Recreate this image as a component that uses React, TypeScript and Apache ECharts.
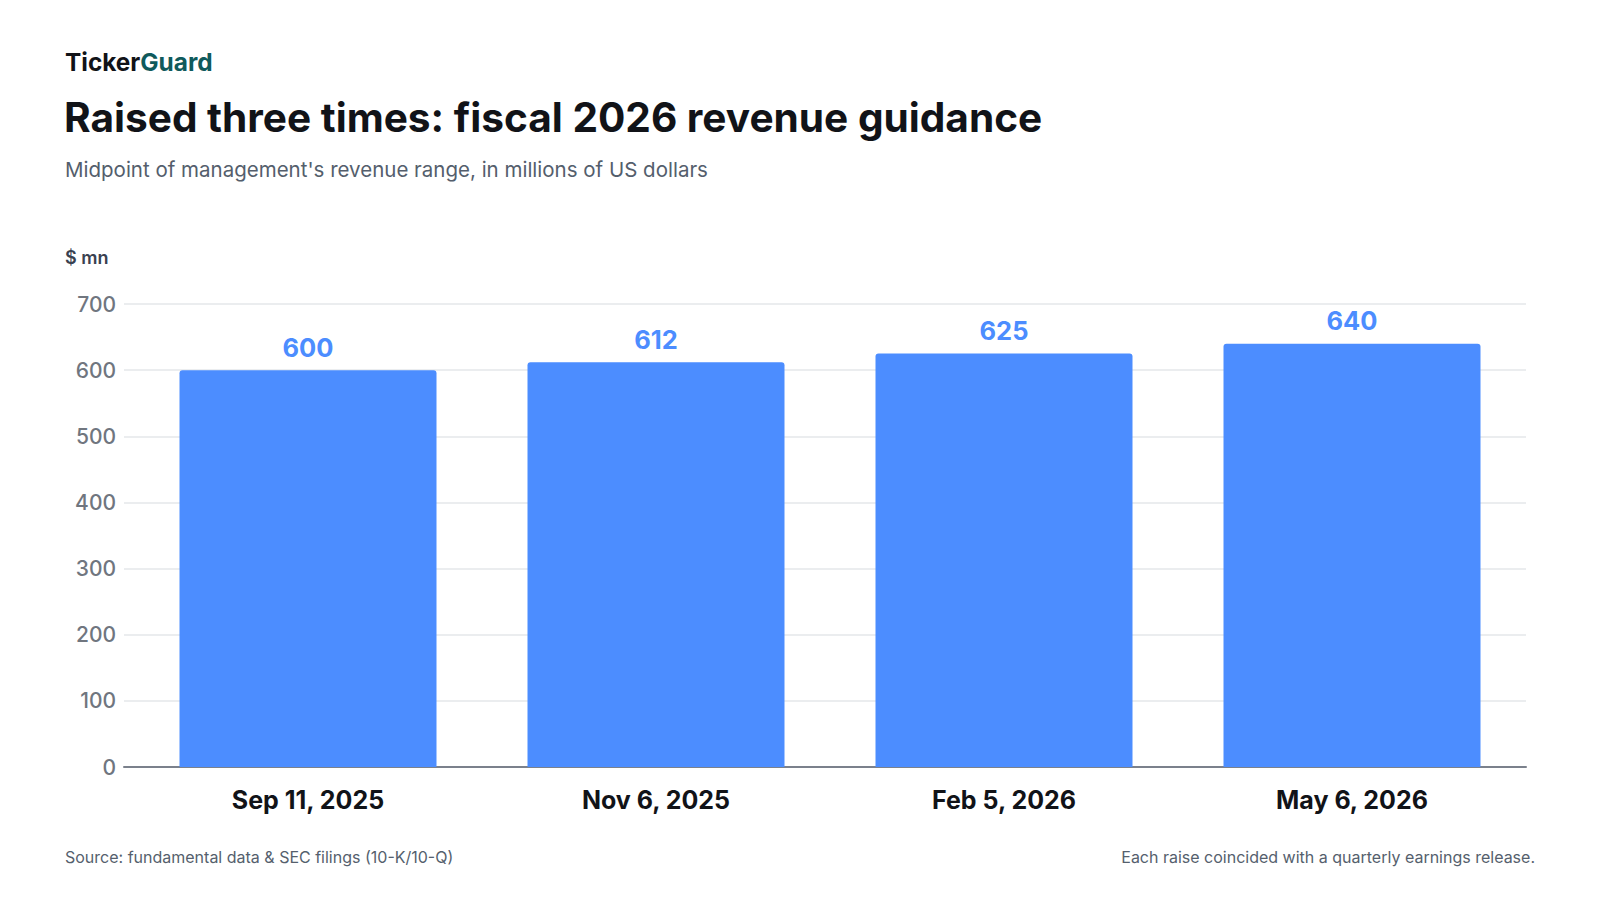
import React, { useEffect, useRef } from "react";
import * as echarts from "echarts";

const categories = ["Sep 11, 2025", "Nov 6, 2025", "Feb 5, 2026", "May 6, 2026"];
const guidance = [600, 612, 625, 640];
const yTicks = [0, 100, 200, 300, 400, 500, 600, 700];

const FONT = "Inter, 'Noto Sans', sans-serif";
const BLUE = "#4c8dff";

const App: React.FC = () => {
  const chartRef = useRef<HTMLDivElement>(null);

  useEffect(() => {
    if (!chartRef.current) return;
    const chart = echarts.init(chartRef.current, undefined, { renderer: "svg" });

    const yMin = yTicks[0];
    const yMax = yTicks[yTicks.length - 1];

    const option = {
      animation: false,
      backgroundColor: "#ffffff",
      textStyle: { fontFamily: FONT },
      // grid 0: gridlines and y labels (a bit wider), grid 1: the bars
      grid: [
        { left: 124, right: 74, top: 304, bottom: 133 },
        { left: 134, right: 74, top: 304, bottom: 133 },
      ],
      xAxis: [
        {
          gridIndex: 0,
          type: "category",
          data: categories,
          axisLine: { show: true, lineStyle: { color: "#7b818c", width: 2 } },
          axisTick: { show: false },
          axisLabel: { show: false },
        },
        {
          gridIndex: 1,
          type: "category",
          data: categories,
          axisLine: { show: false },
          axisTick: { show: false },
          axisLabel: {
            margin: 20,
            fontSize: 25,
            fontWeight: 700,
            color: "#111318",
            fontFamily: FONT,
          },
        },
      ],
      yAxis: [
        {
          gridIndex: 0,
          type: "value",
          min: yMin,
          max: yMax,
          interval: 100,
          axisLine: { show: false },
          axisTick: { show: false },
          splitLine: { lineStyle: { color: "#e5e7ea", width: 1.5 } },
          axisLabel: {
            margin: 8,
            fontSize: 21,
            fontWeight: 500,
            color: "#70767f",
            fontFamily: FONT,
          },
        },
        {
          gridIndex: 1,
          type: "value",
          min: yMin,
          max: yMax,
          interval: 100,
          show: false,
          splitLine: { show: false },
        },
      ],
      graphic: [
        {
          type: "text",
          left: 65,
          top: 50,
          style: {
            rich: {
              a: { fontSize: 24.4, fontWeight: 700, fill: "#111318", fontFamily: FONT },
              b: { fontSize: 24.4, fontWeight: 700, fill: "#0f5a5c", fontFamily: FONT },
            },
            text: "{a|Ticker}{b|Guard}",
          },
        },
        {
          type: "text",
          left: 64,
          top: 97,
          style: {
            text: "Raised three times: fiscal 2026 revenue guidance",
            fontSize: 40.6,
            fontWeight: 700,
            fill: "#111318",
            fontFamily: FONT,
          },
        },
        {
          type: "text",
          left: 65,
          top: 159,
          style: {
            text: "Midpoint of management's revenue range, in millions of US dollars",
            fontSize: 20.5,
            fill: "#545e6c",
            fontFamily: FONT,
          },
        },
        {
          type: "text",
          left: 65,
          top: 248,
          style: {
            text: "$ mn",
            fontSize: 18,
            fontWeight: 600,
            fill: "#394150",
            fontFamily: FONT,
          },
        },
        {
          type: "text",
          left: 65,
          top: 849,
          style: {
            text: "Source: fundamental data & SEC filings (10-K/10-Q)",
            fontSize: 16,
            fill: "#555f6d",
            fontFamily: FONT,
          },
        },
        {
          type: "text",
          right: 65,
          top: 849,
          style: {
            text: "Each raise coincided with a quarterly earnings release.",
            fontSize: 16,
            fill: "#555f6d",
            fontFamily: FONT,
          },
        },
      ],
      series: [
        {
          name: "Guidance midpoint",
          type: "bar",
          xAxisIndex: 1,
          yAxisIndex: 1,
          data: guidance,
          barWidth: 257,
          itemStyle: { color: BLUE, borderRadius: [3, 3, 0, 0] },
          label: {
            show: true,
            position: "top",
            distance: 10,
            fontSize: 25.5,
            fontWeight: 700,
            color: BLUE,
            fontFamily: FONT,
          },
        },
      ],
    };

    chart.setOption(option as any);
    const onResize = () => chart.resize();
    window.addEventListener("resize", onResize);
    return () => {
      window.removeEventListener("resize", onResize);
      chart.dispose();
    };
  }, []);

  return (
    <div
      ref={chartRef}
      style={{ position: "fixed", left: 0, top: 0, width: "1600px", height: "900px", background: "#fff" }}
    />
  );
};

export default App;
